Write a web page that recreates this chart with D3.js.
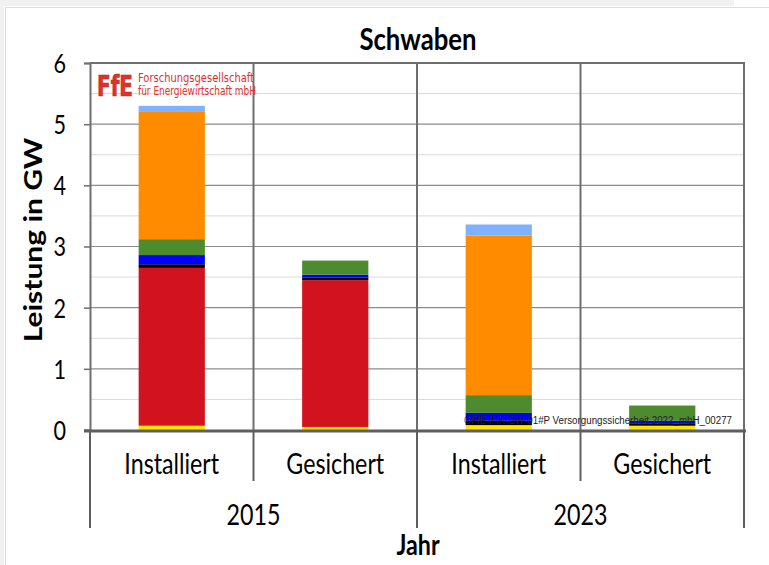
<!DOCTYPE html>
<html>
<head>
<meta charset="utf-8">
<script src="https://cdn.jsdelivr.net/npm/d3@7/dist/d3.min.js"></script>
<style>
  body { margin: 0; background: #fff; }
  svg { display: block; }
</style>
</head>
<body>
<script>
// data (GW)
var categories = ["Installiert", "Gesichert", "Installiert", "Gesichert"];
var years = ["2015", "2023"];
var seriesKeys = ["gelb", "rot", "schwarz", "blau", "gruen", "orange", "hellblau"];
var gelb     = [0.07, 0.05, 0.08, 0.07];
var rot      = [2.58, 2.40, 0.00, 0.00];
var schwarz  = [0.06, 0.04, 0.07, 0.04];
var blau     = [0.15, 0.05, 0.13, 0.04];
var gruen    = [0.26, 0.23, 0.29, 0.25];
var orange   = [2.08, 0.00, 2.61, 0.00];
var hellblau = [0.10, 0.00, 0.18, 0.00];
var yTicks = [0, 1, 2, 3, 4, 5, 6];

var colours = {
  gelb: "#ffe500", rot: "#d2121f", schwarz: "#000000", blau: "#0000ff",
  gruen: "#4e8b2f", orange: "#ff8b00", hellblau: "#7fb1ff"
};

var w = 769, h = 565;
var font = "Lato, 'Open Sans', sans-serif";
var squeeze = 0.83; // text in the picture is narrow and tall

var rows = categories.map(function(c, i){
  return {
    i: i,
    gelb: gelb[i], rot: rot[i], schwarz: schwarz[i], blau: blau[i],
    gruen: gruen[i], orange: orange[i], hellblau: hellblau[i]
  };
});

var svg = d3.select('body')
            .append('svg')
            .attr('width', w)
            .attr('height', h);

// narrow text helper
function label(g, x, y, str, size, bold){
  return g.append('text')
          .attr('transform', 'translate(' + x + ',' + y + ') scale(' + squeeze + ',1)')
          .attr('text-anchor', 'middle')
          .attr('font-family', font)
          .attr('font-size', size + 'px')
          .attr('font-weight', bold ? 'bold' : 'normal')
          .text(str);
}

// window frame
svg.append('rect').attr('x', 0).attr('y', 0).attr('width', 734).attr('height', 6).attr('fill', '#f0f1f0');
svg.append('rect').attr('x', 0).attr('y', 0).attr('width', 4).attr('height', h).attr('fill', '#f0f1f0');
svg.append('line').attr('x1', 5).attr('x2', w).attr('y1', 7.5).attr('y2', 7.5).attr('stroke', '#dcdcdc');
svg.append('line').attr('x1', 5.5).attr('x2', 5.5).attr('y1', 7).attr('y2', h).attr('stroke', '#dcdcdc');

var x = d3.scaleBand()
          .domain(d3.range(categories.length))
          .range([90, 744]);

var y = d3.scaleLinear()
          .domain([0, 6])
          .range([430, 63]);

// minor grid
svg.append('g')
   .selectAll('line')
   .data(d3.range(0.5, 6, 1))
   .enter()
   .append('line')
   .attr('x1', 90).attr('x2', 744)
   .attr('y1', function(d){ return y(d); })
   .attr('y2', function(d){ return y(d); })
   .attr('stroke', '#d9d9d9')
   .attr('stroke-width', 1);

// major grid
svg.append('g')
   .selectAll('line')
   .data(yTicks.slice(1, 6))
   .enter()
   .append('line')
   .attr('x1', 90).attr('x2', 744)
   .attr('y1', function(d){ return y(d); })
   .attr('y2', function(d){ return y(d); })
   .attr('stroke', '#8c8c8c')
   .attr('stroke-width', 1.2);

// vertical separators in plot
svg.append('g')
   .selectAll('line')
   .data(d3.range(1, categories.length))
   .enter()
   .append('line')
   .attr('x1', function(d){ return x(d); })
   .attr('x2', function(d){ return x(d); })
   .attr('y1', y(6)).attr('y2', y(0))
   .attr('stroke', '#6e6e6e')
   .attr('stroke-width', 2);

// plot border top/right
svg.append('path')
   .attr('d', 'M90,' + y(6) + 'H744V' + y(0))
   .attr('fill', 'none')
   .attr('stroke', '#6e6e6e')
   .attr('stroke-width', 2);

// stacked bars
var stack = d3.stack().keys(seriesKeys);
var layers = stack(rows);
var barW = x.bandwidth() * 0.405;

svg.append('g')
   .selectAll('g')
   .data(layers)
   .enter()
   .append('g')
   .attr('fill', function(d){ return colours[d.key]; })
   .selectAll('rect')
   .data(function(d){ return d; })
   .enter()
   .append('rect')
   .attr('x', function(d){ return x(d.data.i) + (x.bandwidth() - barW) / 2; })
   .attr('y', function(d){ return y(d[1]); })
   .attr('width', barW)
   .attr('height', function(d){ return y(d[0]) - y(d[1]); });

// y axis
var yAxis = d3.axisLeft(y)
              .tickValues(yTicks)
              .tickSize(6)
              .tickPadding(18)
              .tickFormat(d3.format('d'));

var ya = svg.append('g')
   .attr('transform', 'translate(90,0)')
   .call(yAxis);
ya.select('.domain').attr('stroke', '#6e6e6e').attr('stroke-width', 2);
ya.selectAll('.tick line').attr('stroke', '#6e6e6e').attr('stroke-width', 1.5);
ya.selectAll('.tick text')
  .attr('x', 0)
  .attr('dy', '0.36em')
  .attr('transform', 'translate(-24,0) scale(' + squeeze + ',1)')
  .attr('font-family', font)
  .attr('font-size', '26px')
  .attr('fill', '#000');

// x axis line
svg.append('line')
   .attr('x1', 84).attr('x2', 746)
   .attr('y1', 431).attr('y2', 431)
   .attr('stroke', '#5e5e5e')
   .attr('stroke-width', 3);

// category separators below axis
var bounds = d3.range(0, categories.length + 1);
svg.append('g')
   .selectAll('line')
   .data(bounds)
   .enter()
   .append('line')
   .attr('x1', function(d){ return d < categories.length ? x(d) : x(d - 1) + x.bandwidth(); })
   .attr('x2', function(d){ return d < categories.length ? x(d) : x(d - 1) + x.bandwidth(); })
   .attr('y1', 431)
   .attr('y2', function(d){ return d % 2 === 0 ? 528 : 481; })
   .attr('stroke', '#5e5e5e')
   .attr('stroke-width', 2);

var catG = svg.append('g');
categories.forEach(function(c, i){
  label(catG, x(i) + x.bandwidth() / 2, 474, c, 28, false);
});

var yearG = svg.append('g');
years.forEach(function(yr, i){
  label(yearG, x(i * 2) + x.bandwidth(), 525, yr, 28, false);
});

// titles
label(svg, 418, 50, 'Schwaben', 31, true);
label(svg, 418, 555, 'Jahr', 28, true);

svg.append('text')
   .attr('transform', 'translate(42,240) rotate(-90) scale(1,' + squeeze + ')')
   .attr('text-anchor', 'middle')
   .attr('font-family', font)
   .attr('font-weight', 'bold')
   .attr('font-size', '30px')
   .text('Leistung in GW');

// logo
var logo = svg.append('g').attr('fill', '#e0312b');
logo.append('text')
    .attr('x', 97).attr('y', 96)
    .attr('font-family', "'Liberation Sans Narrow', 'DejaVu Sans Condensed', sans-serif")
    .attr('font-weight', 'bold')
    .attr('font-size', '28px')
    .attr('textLength', 36)
    .attr('lengthAdjust', 'spacingAndGlyphs')
    .attr('stroke', '#b52520')
    .attr('stroke-width', 0.6)
    .text('FfE');
logo.append('text')
    .attr('x', 138).attr('y', 82)
    .attr('font-family', "'Liberation Sans Narrow', 'DejaVu Sans Condensed', sans-serif")
    .attr('font-size', '11.5px')
    .attr('textLength', 116)
    .attr('lengthAdjust', 'spacingAndGlyphs')
    .text('Forschungsgesellschaft');
logo.append('text')
    .attr('x', 138).attr('y', 95)
    .attr('font-family', "'Liberation Sans Narrow', 'DejaVu Sans Condensed', sans-serif")
    .attr('font-size', '11.5px')
    .attr('textLength', 118)
    .attr('lengthAdjust', 'spacingAndGlyphs')
    .text('für Energiewirtschaft mbH');

// watermark id
svg.append('text')
   .attr('x', 464).attr('y', 424)
   .attr('font-family', "'Liberation Sans', Arial, sans-serif")
   .attr('font-size', '10px')
   .attr('fill', '#222')
   .attr('textLength', 268)
   .attr('lengthAdjust', 'spacingAndGlyphs')
   .text('©FfE IHK-SW-01#P Versorgungssicherheit 2022_mbH_00277');
</script>
</body>
</html>
